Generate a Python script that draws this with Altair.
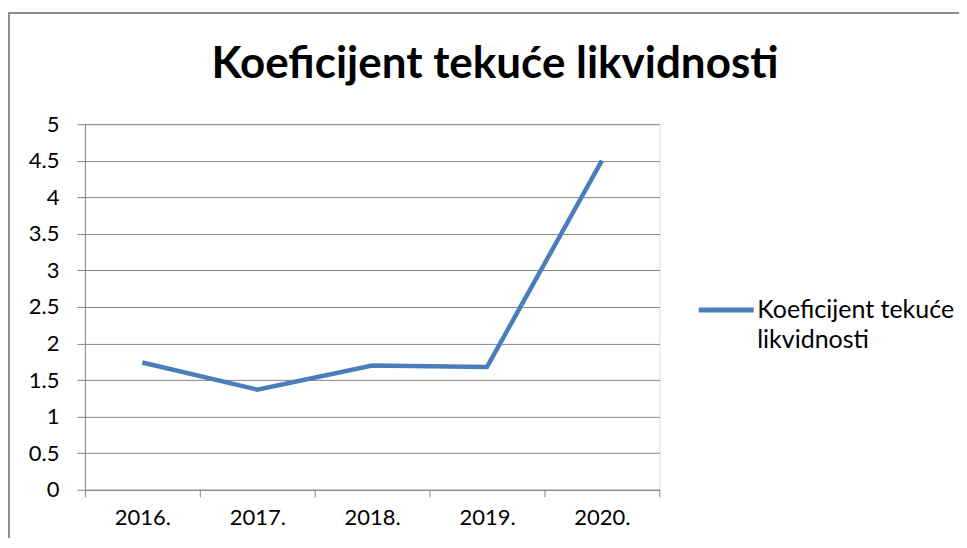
import altair as alt
import pandas as pd

years = ["2016.", "2017.", "2018.", "2019.", "2020."]
values = [1.74, 1.37, 1.70, 1.68, 4.50]
series_name = "Koeficijent tekuće likvidnosti"
y_ticks = [0, 0.5, 1, 1.5, 2, 2.5, 3, 3.5, 4, 4.5, 5]

df = pd.DataFrame({"year": years, "value": values, "series": [series_name] * len(years)})

FONT = "Lato"
GRID = "#868686"
LINE = "#4A7EBB"

W, H = 575, 366
PAD_L, PAD_T, PAD_R, PAD_B = 77, 116, 300, 48

line = alt.Chart(df).mark_line(strokeWidth=4.5, color=LINE).encode(
    x=alt.X("year:N", sort=years, bandPosition=0.5,
            scale=alt.Scale(type="band", paddingInner=0, paddingOuter=0),
            axis=alt.Axis(title=None, labelAngle=0, tickBand="extent", grid=False,
                          domainColor=GRID, tickColor=GRID, tickSize=7,
                          labelFontSize=22, labelFont=FONT, labelColor="black",
                          labelPadding=11)),
    y=alt.Y("value:Q", scale=alt.Scale(domain=[0, 5], nice=False),
            axis=alt.Axis(title=None, values=y_ticks, format="~g", grid=True,
                          gridColor=GRID, domainColor=GRID, tickColor=GRID,
                          tickSize=8, labelFontSize=22, labelFont=FONT,
                          labelColor="black", labelPadding=18,
                          labelFlush=False, labelOverlap=False)),
    color=alt.Color("series:N", scale=alt.Scale(range=[LINE]),
                    legend=alt.Legend(title=None, orient="none", legendX=612, legendY=156,
                                      symbolType="stroke", symbolStrokeWidth=5,
                                      symbolSize=3025, labelFontSize=25, labelFont=FONT,
                                      labelColor="black", labelOffset=1,
                                      labelExpr="['Koeficijent tekuće', 'likvidnosti']",
                                      labelLimit=400)),
)

top_border = alt.Chart(df).mark_rule(color="#8c8c8c", strokeWidth=1.5).encode(
    x=alt.value(-PAD_L + 0.5), x2=alt.value(W + PAD_R), y=alt.value(-PAD_T + 4.5)
)
left_border = alt.Chart(df).mark_rule(color="#8c8c8c", strokeWidth=1.5).encode(
    x=alt.value(-PAD_L + 0.75), y=alt.value(-PAD_T + 4.5), y2=alt.value(H + PAD_B)
)

chart = alt.layer(line, top_border, left_border).properties(
    width=W, height=H,
    title=alt.TitleParams(series_name, font=FONT, fontSize=44, fontWeight="bold",
                          color="black", anchor="middle", frame="group", dx=123,
                          baseline="alphabetic", offset=-110),
    autosize=alt.AutoSizeParams(type="none"),
    padding={"left": PAD_L, "top": PAD_T, "right": PAD_R, "bottom": PAD_B},
).configure_view(stroke=None).configure(
    background="white",
    style={"guide-label": {"lineHeight": 30}},
)

chart.save("out.html", embed_options={"renderer": "svg", "actions": False})
